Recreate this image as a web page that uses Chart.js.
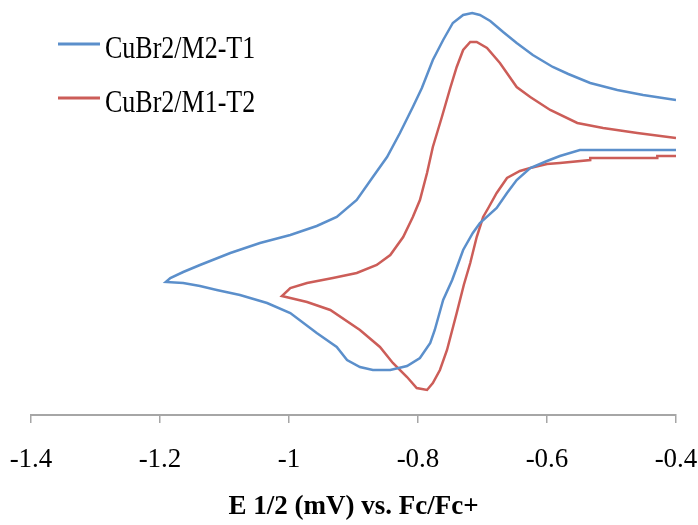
<!DOCTYPE html>
<html>
<head>
<meta charset="utf-8">
<script src="https://cdn.jsdelivr.net/npm/chart.js@4"></script>
<style>
  body { margin: 0; background: #fff; }
</style>
</head>
<body>
<canvas id="cv" width="698" height="525"></canvas>
<script>
// potential (V vs Fc/Fc+) and current (arb. units), in scan order
const blueE = [-0.400, -0.518, -0.549, -0.580, -0.600, -0.626, -0.647, -0.662, -0.678, -0.704,
  -0.715, -0.730, -0.747, -0.761, -0.774, -0.781, -0.797, -0.817, -0.843, -0.870,
  -0.890, -0.910, -0.926, -0.957, -0.998, -1.034, -1.076, -1.112, -1.138, -1.164,
  -1.191,
  -1.184, -1.164, -1.138, -1.091, -1.045, -0.998, -0.957, -0.926, -0.895, -0.870,
  -0.848, -0.828, -0.808, -0.794, -0.777, -0.761, -0.746, -0.730, -0.716, -0.704,
  -0.688, -0.668, -0.647, -0.622, -0.591, -0.567, -0.533, -0.491, -0.451, -0.400];
const blueI = [26.5, 26.5, 26.5, 25.9, 25.4, 24.7, 23.5, 22.2, 20.7, 19.2,
  18.2, 16.5, 13.5, 11.5, 8.5, 7.2, 5.7, 4.9, 4.5, 4.5,
  4.8, 5.5, 6.8, 8.2, 10.2, 11.2, 12.0, 12.5, 12.9, 13.2,
  13.3,
  13.7, 14.3, 15.0, 16.2, 17.2, 18.0, 18.9, 19.8, 21.5, 23.8,
  25.8, 28.2, 30.8, 32.7, 35.5, 37.5, 39.2, 40.0, 40.2, 40.0,
  39.4, 38.3, 37.2, 36.0, 34.8, 34.1, 33.2, 32.5, 32.0, 31.5];

const redE = [-0.400, -0.429, -0.429, -0.533, -0.533, -0.580, -0.600, -0.626, -0.642, -0.662,
  -0.678, -0.691, -0.699, -0.709, -0.719, -0.729, -0.740, -0.755, -0.766, -0.777,
  -0.786, -0.802, -0.817, -0.839, -0.859, -0.890, -0.936, -0.972, -0.998, -1.011,
  -0.998, -0.972, -0.932, -0.895, -0.864, -0.843, -0.823, -0.808, -0.797, -0.786,
  -0.777, -0.763, -0.750, -0.740, -0.730, -0.719, -0.709, -0.693, -0.673, -0.647,
  -0.626, -0.595, -0.553, -0.513, -0.460, -0.400];
const redI = [25.9, 25.9, 25.7, 25.7, 25.5, 25.2, 25.1, 24.7, 24.4, 23.7,
  22.2, 20.7, 19.8, 17.8, 15.2, 13.0, 10.2, 6.5, 4.5, 3.2,
  2.5, 2.7, 3.8, 5.2, 6.8, 8.5, 10.5, 11.3, 11.7, 11.9,
  12.7, 13.2, 13.7, 14.2, 15.0, 16.0, 17.8, 19.8, 21.5, 24.2,
  26.8, 29.8, 32.7, 34.8, 36.5, 37.3, 37.3, 36.7, 35.2, 32.8,
  31.8, 30.5, 29.2, 28.7, 28.2, 27.7];

const seriesNames = ['CuBr2/M2-T1', 'CuBr2/M1-T2'];
const seriesColors = ['#5B8FCB', '#CC5D58'];
const xTicks = { min: -1.4, max: -0.4, step: 0.2 };

function toPoints(xs, ys) {
  return xs.map((x, i) => ({ x: x, y: ys[i] }));
}

// legend drawn inside the plot, top left
const innerLegend = {
  id: 'innerLegend',
  afterDraw(chart) {
    const ctx = chart.ctx;
    chart.data.datasets.forEach((ds, i) => {
      const y = 44 + i * 54;
      ctx.save();
      ctx.strokeStyle = ds.borderColor;
      ctx.lineWidth = 3;
      ctx.beginPath();
      ctx.moveTo(58, y);
      ctx.lineTo(100, y);
      ctx.stroke();
      ctx.translate(105, y + 14);
      ctx.scale(1, 1.2);
      ctx.fillStyle = '#000';
      ctx.font = '26px "Liberation Serif"';
      ctx.textBaseline = 'alphabetic';
      ctx.fillText(ds.label, 0, 0);
      ctx.restore();
    });
  }
};

new Chart(document.getElementById('cv'), {
  type: 'scatter',
  data: {
    datasets: [
      {
        label: seriesNames[0],
        data: toPoints(blueE, blueI),
        showLine: true,
        borderColor: seriesColors[0],
        borderWidth: 2.5,
        pointRadius: 0,
        tension: 0,
      },
      {
        label: seriesNames[1],
        data: toPoints(redE, redI),
        showLine: true,
        borderColor: seriesColors[1],
        borderWidth: 2.5,
        pointRadius: 0,
        tension: 0,
      },
    ],
  },
  options: {
    responsive: false,
    animation: false,
    devicePixelRatio: 1,
    layout: { padding: { left: 31, right: 22, top: 0, bottom: 0 } },
    plugins: {
      legend: { display: false },
      tooltip: { enabled: false },
    },
    scales: {
      x: {
        type: 'linear',
        min: xTicks.min,
        max: xTicks.max,
        afterFit(scale) {
          // keep the edge labels from shrinking the plot, and fix the axis band height
          scale.paddingLeft = 0;
          scale.paddingRight = 0;
          scale.height = 110;
        },
        ticks: {
          stepSize: xTicks.step,
          color: '#000',
          padding: 21,
          font: { family: '"Liberation Serif"', size: 27 },
          callback: (v) => String(parseFloat(v.toFixed(1))),
        },
        grid: {
          drawOnChartArea: false,
          drawTicks: true,
          tickLength: 8,
          color: '#A6A6A6',
          lineWidth: 1.5,
        },
        border: { display: true, color: '#A6A6A6', width: 2 },
        title: {
          display: true,
          text: 'E 1/2 (mV) vs. Fc/Fc+',
          color: '#000',
          padding: { top: 0, bottom: 2 },
          font: { family: '"Liberation Serif"', size: 27, weight: 'bold' },
        },
      },
      y: {
        display: false,
        min: 0,
        max: 41.5,
      },
    },
  },
  plugins: [innerLegend],
});
</script>
</body>
</html>
